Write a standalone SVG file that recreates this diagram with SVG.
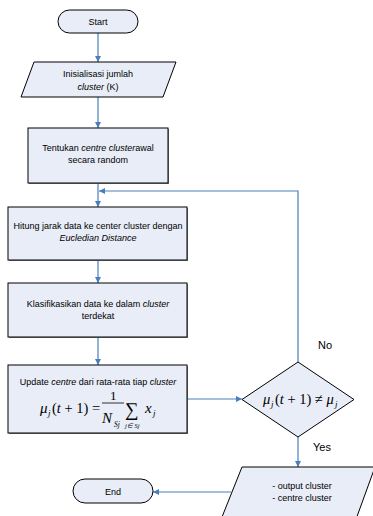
<svg xmlns="http://www.w3.org/2000/svg" width="373" height="516" viewBox="0 0 373 516">
<style>
.shape{fill:#E8EDF7;stroke:#000;stroke-width:1}
.shadow{fill:#808080;stroke:none}
.t{font-family:"Liberation Sans",Arial,sans-serif;font-size:9px;fill:#000;text-anchor:middle}
.lbl{font-family:"Liberation Sans",Arial,sans-serif;font-size:11px;fill:#000}
.m{font-family:"Liberation Serif","Times New Roman",serif;fill:#000}
.conn{fill:none;stroke:#4A7EBB;stroke-width:1.2}
</style>
<defs>
<marker id="ah" viewBox="0 0 10 10" refX="10" refY="5" markerWidth="6" markerHeight="6" markerUnits="userSpaceOnUse" orient="auto">
<path d="M0,0 L10,5 L0,10 z" fill="#4A7EBB"/>
</marker>
</defs>
<g id="connectors">
<line class="conn" x1="98" y1="33" x2="98" y2="62" marker-end="url(#ah)"/>
<line class="conn" x1="98" y1="97" x2="98" y2="128" marker-end="url(#ah)"/>
<line class="conn" x1="98" y1="183" x2="98" y2="207" marker-end="url(#ah)"/>
<polyline class="conn" points="298,362 298,191 99,191" marker-end="url(#ah)"/>
<line class="conn" x1="98" y1="260" x2="98" y2="283" marker-end="url(#ah)"/>
<line class="conn" x1="98" y1="337" x2="98" y2="365" marker-end="url(#ah)"/>
<line class="conn" x1="187" y1="399" x2="242" y2="399" marker-end="url(#ah)"/>
<line class="conn" x1="298" y1="437" x2="298" y2="467" marker-end="url(#ah)"/>
<line class="conn" x1="231" y1="492" x2="153" y2="492" marker-end="url(#ah)"/>
<text class="lbl" x="318" y="349">No</text>
<text class="lbl" x="313" y="451">Yes</text>
</g>
<g id="start">
<rect class="shape" x="58" y="10" width="80" height="23" rx="11.5"/>
<text class="t" x="98" y="24.5">Start</text>
</g>
<g id="init">
<polygon class="shape" points="34,62 176,62 163,97 21,97"/>
<text class="t" x="98" y="77">Inisialisasi jumlah</text>
<text class="t" x="98" y="90"><tspan font-style="italic">cluster</tspan> (K)</text>
</g>
<g id="centre">
<rect class="shadow" x="29" y="129" width="140" height="55"/>
<rect class="shape" x="28" y="128" width="140" height="55"/>
<text class="t" x="98" y="151">Tentukan <tspan font-style="italic">centre cluster</tspan>awal</text>
<text class="t" x="98" y="163">secara random</text>
</g>
<g id="hitung">
<rect class="shadow" x="9" y="208" width="179" height="53"/>
<rect class="shape" x="8" y="207" width="179" height="53"/>
<text class="t" x="98" y="229">Hitung jarak data ke center cluster dengan</text>
<text class="t" x="98" y="241" font-style="italic">Eucledian Distance</text>
</g>
<g id="klasifikasi">
<rect class="shadow" x="9" y="284" width="179" height="54"/>
<rect class="shape" x="8" y="283" width="179" height="54"/>
<text class="t" x="98" y="307">Klasifikasikan data ke dalam <tspan font-style="italic">cluster</tspan></text>
<text class="t" x="98" y="319">terdekat</text>
</g>
<g id="update">
<rect class="shadow" x="9" y="366" width="179" height="68"/>
<rect class="shape" x="8" y="365" width="179" height="68"/>
<text class="t" x="98" y="385" font-size="8.6">Update <tspan font-style="italic">centre</tspan> dari rata-rata tiap <tspan font-style="italic">cluster</tspan></text>
<text class="m" x="40" y="413" font-size="15" font-style="italic">μ</text>
<text class="m" x="48" y="416" font-size="9" font-style="italic">j</text>
<text class="m" x="52" y="413" font-size="14.5">(<tspan font-style="italic">t</tspan> + 1) =</text>
<text class="m" x="110" y="400" font-size="13">1</text>
<line x1="102" y1="403" x2="124" y2="403" stroke="#000" stroke-width="0.8"/>
<text class="m" x="102" y="423" font-size="15" font-style="italic">N</text>
<text class="m" x="114" y="427" font-size="7.5" font-style="italic">Sj</text>
<text class="m" x="125" y="416" font-size="19">∑</text>
<text class="m" x="125" y="428" font-size="6.5" font-style="italic">j∈ Sj</text>
<text class="m" x="145" y="413" font-size="15" font-style="italic">x</text>
<text class="m" x="153" y="416" font-size="9" font-style="italic">j</text>
</g>
<g id="decision">
<polygon class="shape" points="298,362 354,399.5 298,437 242,399.5"/>
<text class="m" x="263" y="404" font-size="14.5" font-style="italic">μ</text>
<text class="m" x="271" y="407" font-size="9" font-style="italic">j</text>
<text class="m" x="275" y="404" font-size="14.5">(<tspan font-style="italic">t</tspan> + 1) ≠ <tspan font-style="italic">μ</tspan></text>
<text class="m" x="335" y="407" font-size="9" font-style="italic">j</text>
</g>
<g id="output">
<polygon class="shape" points="242,467 375,467 355,522 220,522"/>
<text class="t" x="302" y="489">- output cluster</text>
<text class="t" x="302" y="501">- centre cluster</text>
</g>
<g id="end">
<rect class="shape" x="73" y="479" width="80" height="24" rx="12"/>
<text class="t" x="113" y="494.5">End</text>
</g>
</svg>
